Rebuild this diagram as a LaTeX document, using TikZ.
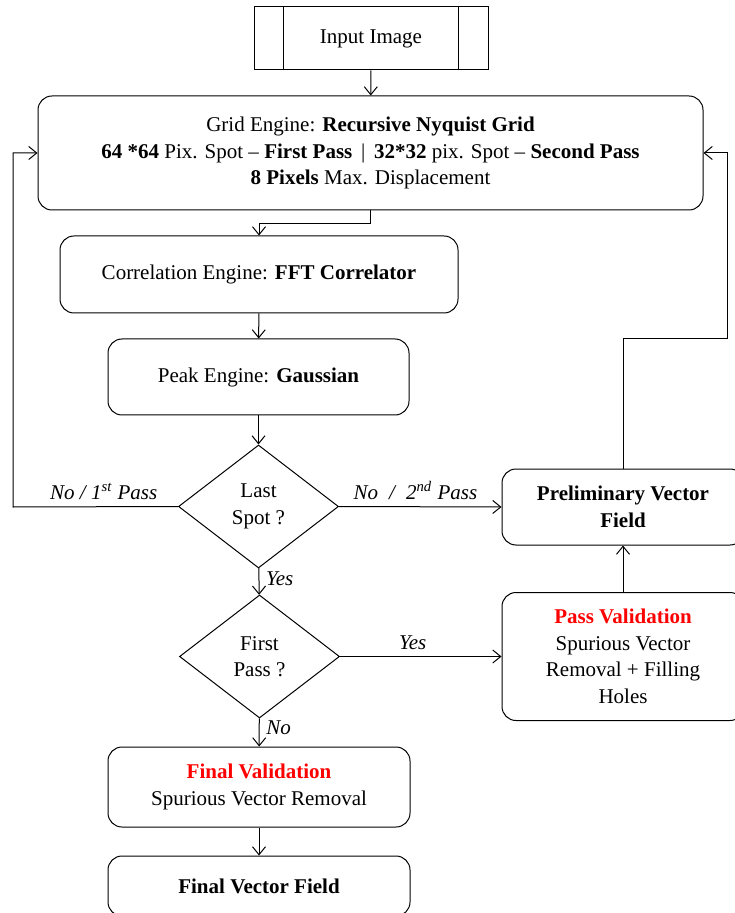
\documentclass[tikz,border=0pt]{standalone}
\usepackage{fontspec}
\setmainfont{Liberation Serif}
\usetikzlibrary{shapes.geometric,arrows.meta}

\begin{document}
\begin{tikzpicture}[x=0.5pt, y=-0.5pt, line width=0.5pt,
  >={Straight Barb[length=4pt,width=6.5pt]},
  font=\fontsize{10.5}{13.25}\selectfont,
  box/.style={draw, rounded corners=7pt, align=center, inner sep=0pt},
  decision/.style={draw, diamond, align=center, inner sep=0pt, minimum width=80pt, minimum height=61.5pt},
  lbl/.style={font=\fontsize{10.5}{13.25}\selectfont\itshape}]
\useasboundingbox (0,0) rectangle (734,913);
\node[draw, minimum width=117pt, minimum height=31.5pt] (in) at (371,38.5) {Input Image};
\draw ([xshift=15pt]in.north west) -- ([xshift=15pt]in.south west);
\draw ([xshift=-15pt]in.north east) -- ([xshift=-15pt]in.south east);
\node[box, minimum width=332.5pt, minimum height=57pt] (grid) at (370.5,153)
  {Grid Engine: \textbf{Recursive Nyquist Grid}\\
   \textbf{64 *64} Pix. Spot -- \textbf{First Pass} \,|\, \textbf{32*32} pix. Spot -- \textbf{Second Pass}\\
   \textbf{8 Pixels} Max. Displacement};
\node[box, minimum width=199pt, minimum height=38.5pt] (corr) at (259,274.5) {Correlation Engine: \textbf{FFT Correlator}};
\node[box, minimum width=150.5pt, minimum height=38pt] (peak) at (258.5,377) {Peak Engine: \textbf{Gaussian}};
\node[decision] (last) at (258.5,506.5) {Last\\Spot ?};
\node[decision] (first) at (259.5,656.5) {First\\Pass ?};
\node[box, minimum width=121pt, minimum height=38pt] (prelim) at (623,507) {\textbf{Preliminary Vector}\\\textbf{Field}};
\node[box, minimum width=121pt, minimum height=64pt] (passval) at (623,656.5)
  {\textcolor{red}{\textbf{Pass Validation}}\\Spurious Vector\\Removal + Filling\\Holes};
\node[box, minimum width=151pt, minimum height=40pt] (finval) at (259,787)
  {\textcolor{red}{\textbf{Final Validation}}\\Spurious Vector Removal};
\node[box, minimum width=151pt, minimum height=30pt] (final) at (259,886) {\textbf{Final Vector Field}};
\coordinate (lb) at (13,507);
\coordinate (rb) at (727,339);
\draw[->] (in) -- (grid);
\draw[->] (grid.south) -- ++(0,13) -| (corr.north);
\draw[->] (corr) -- (peak);
\draw[->] (peak) -- (last);
\draw[->] (last.west) -- (lb) node[lbl, above, pos=0.45]{No / 1\textsuperscript{st} Pass} |- (grid.west);
\draw[->] (last.east) -- (prelim.west) node[lbl, above, pos=0.47]{No \;/\; 2\textsuperscript{nd} Pass};
\draw[->] (last) -- (first) node[lbl, right, pos=0.4]{Yes};
\draw[->] (first.east) -- (passval.west) node[lbl, above, pos=0.45]{Yes};
\draw[->] (first) -- (finval) node[lbl, right, pos=0.35]{No};
\draw[->] (passval) -- (prelim);
\draw[->] (prelim.north) |- (rb) |- (grid.east);
\draw[->] (finval) -- (final);
\end{tikzpicture}
\end{document}
